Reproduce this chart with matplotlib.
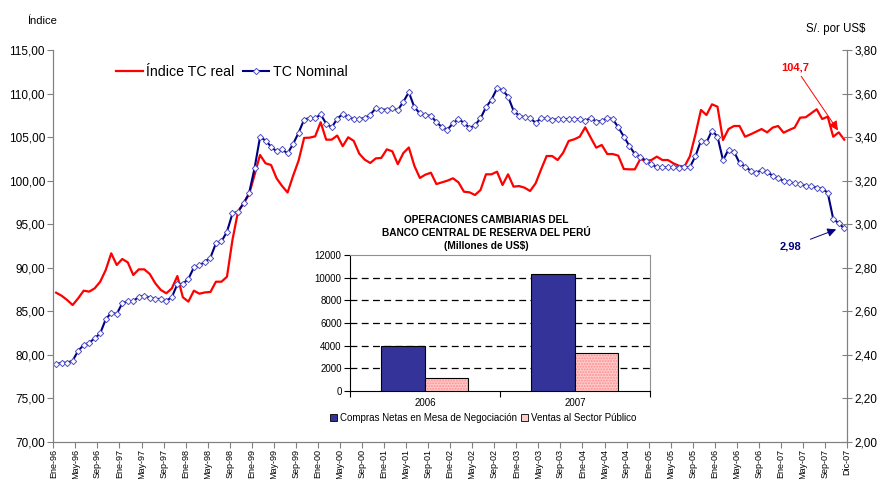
import matplotlib
matplotlib.use('Agg')
import matplotlib.pyplot as plt
import numpy as np
from matplotlib.ticker import FuncFormatter, MultipleLocator
from matplotlib.patches import Patch

plt.rcParams['font.family'] = ['Liberation Sans', 'DejaVu Sans']

##### data (monthly, Ene-96 .. Dic-07)
tc_real = [
    87.12, 86.77, 86.28, 85.70, 86.47, 87.35, 87.24, 87.62, 88.38, 89.72, 91.64, 90.30,   # 1996
    90.99, 90.60, 89.15, 89.80, 89.80, 89.26, 88.19, 87.43, 87.05, 87.62, 89.03, 86.59,   # 1997
    86.09, 87.35, 87.00, 87.15, 87.20, 88.38, 88.38, 88.95, 93.20, 96.42, 97.38, 98.40,   # 1998
    100.64, 102.94, 101.98, 101.79, 100.26, 99.37, 98.63, 100.55, 102.30, 104.90, 104.93, 105.08,  # 1999
    106.70, 104.70, 104.70, 105.17, 103.95, 104.97, 104.56, 103.09, 102.40, 102.02, 102.55, 102.60,  # 2000
    103.59, 103.36, 101.88, 103.16, 103.80, 101.70, 100.30, 100.68, 100.90, 99.60, 99.80, 99.99,  # 2001
    100.26, 99.80, 98.72, 98.65, 98.34, 98.91, 100.72, 100.72, 101.02, 99.49, 100.72, 99.30,  # 2002
    99.37, 99.18, 98.80, 99.68, 101.29, 102.82, 102.82, 102.36, 103.20, 104.55, 104.74, 105.04,  # 2003
    106.12, 104.93, 103.78, 104.09, 103.05, 103.05, 102.86, 101.33, 101.29, 101.29, 102.48, 102.25,  # 2004
    102.36, 102.75, 102.36, 102.36, 101.98, 101.70, 101.60, 102.80, 105.30, 108.11, 107.53, 108.76,  # 2005
    108.49, 104.66, 105.92, 106.27, 106.27, 105.04, 105.31, 105.62, 105.92, 105.54, 106.08, 106.27,  # 2006
    105.50, 105.81, 106.08, 107.23, 107.27, 107.73, 108.19, 107.07, 107.34, 105.04, 105.54, 104.70,  # 2007
]

tc_nominal = [
    2.356, 2.363, 2.363, 2.372, 2.418, 2.444, 2.455, 2.475, 2.498, 2.562, 2.593, 2.587,
    2.636, 2.646, 2.646, 2.666, 2.671, 2.662, 2.656, 2.656, 2.648, 2.664, 2.724, 2.726,
    2.748, 2.801, 2.810, 2.827, 2.846, 2.912, 2.920, 2.965, 3.049, 3.057, 3.095, 3.141,
    3.256, 3.400, 3.384, 3.356, 3.334, 3.343, 3.325, 3.368, 3.420, 3.480, 3.488, 3.486,
    3.504, 3.462, 3.444, 3.484, 3.506, 3.492, 3.483, 3.483, 3.488, 3.503, 3.532, 3.526,
    3.526, 3.532, 3.524, 3.562, 3.606, 3.537, 3.509, 3.500, 3.498, 3.468, 3.446, 3.434,
    3.463, 3.483, 3.465, 3.442, 3.454, 3.486, 3.537, 3.572, 3.624, 3.616, 3.586, 3.521,
    3.498, 3.491, 3.486, 3.466, 3.486, 3.486, 3.478, 3.483, 3.483, 3.483, 3.483, 3.482,
    3.474, 3.489, 3.471, 3.474, 3.489, 3.482, 3.445, 3.402, 3.360, 3.322, 3.310, 3.291,
    3.276, 3.261, 3.261, 3.261, 3.261, 3.259, 3.261, 3.262, 3.312, 3.383, 3.375, 3.430,
    3.402, 3.294, 3.342, 3.333, 3.281, 3.264, 3.246, 3.236, 3.248, 3.238, 3.223, 3.210,
    3.199, 3.193, 3.187, 3.184, 3.176, 3.174, 3.168, 3.163, 3.144, 3.024, 3.004, 2.980,
]

years_short = ['96', '97', '98', '99', '00', '01', '02', '03', '04', '05', '06', '07']
month_tick_labels = [m + '-' + y for y in years_short for m in ['Ene', 'May', 'Sep']] + ['Dic-07']

##### inset data
inset_years = ['2006', '2007']
compras_netas = [4000, 10360]
ventas_sector_publico = [1120, 3320]


def coma(fmt):
    return FuncFormatter(lambda v, p: (fmt % v).replace('.', ','))


fig = plt.figure(figsize=(8.79, 4.79), dpi=100)
fig.patch.set_facecolor('white')

ax = fig.add_axes([0.0607, 0.0779, 0.9029, 0.8177])
ax2 = ax.twinx()

n = len(tc_real)
x = np.arange(n) + 0.5

l1, = ax.plot(x, tc_real, color='#FF0000', lw=1.6, label='Índice TC real')
l2, = ax2.plot(x, tc_nominal, color='#000080', lw=1.5, marker='D', markersize=3.2,
               markerfacecolor='white', markeredgecolor='#5050C4', markeredgewidth=0.7,
               label='TC Nominal')

ax.set_xlim(0, n)
ax.set_ylim(70, 115)
ax2.set_ylim(2.0, 3.8)
ax.yaxis.set_major_locator(MultipleLocator(5))
ax2.yaxis.set_major_locator(MultipleLocator(0.2))
ax.yaxis.set_major_formatter(coma('%.2f'))
ax2.yaxis.set_major_formatter(coma('%.2f'))

xt = list(np.arange(0, n - 3, 4)) + [n]
ax.set_xticks(xt)
ax.set_xticklabels(month_tick_labels, rotation=90, fontsize=6.5)

for a in (ax, ax2):
    a.spines['top'].set_visible(False)
    for s in ['left', 'right', 'bottom']:
        a.spines[s].set_color('#808080')
ax.tick_params(axis='y', labelsize=8.5, length=4, color='#808080', pad=2)
ax.tick_params(axis='x', length=4, color='#808080', pad=1)
ax2.tick_params(axis='y', labelsize=8.5, direction='inout', length=7, color='#808080', pad=2)

fig.text(42 / 879, 1 - 21 / 479, 'Índice', fontsize=8, ha='center', va='center')
fig.text(836 / 879, 1 - 29 / 479, 'S/. por US$', fontsize=8.3, ha='center', va='center')

ax2.legend([l1, l2], ['Índice TC real', 'TC Nominal'], loc='center left',
           bbox_to_anchor=(0.132, 0.849), bbox_transform=fig.transFigure,
           ncol=2, frameon=False, fontsize=10.2, handlelength=1.9,
           handletextpad=0.25, columnspacing=0.55, borderpad=0, borderaxespad=0)

# end annotations
ax.annotate(('%.1f' % tc_real[-1]).replace('.', ','), xy=(x[-1], tc_real[-1]),
            xytext=(134.6, 113.0), textcoords='data', color='#FF0000', fontsize=8,
            fontweight='bold', ha='center', va='center',
            arrowprops=dict(arrowstyle='-|>', color='#FF0000', lw=0.7,
                            mutation_scale=14, shrinkA=1, shrinkB=8))
ax2.annotate(('%.2f' % tc_nominal[-1]).replace('.', ','), xy=(x[-1] - 1.0, tc_nominal[-1]),
             xytext=(133.7, 2.895), textcoords='data', color='#000080', fontsize=8,
             fontweight='bold', ha='center', va='center',
             arrowprops=dict(arrowstyle='-|>', color='#000080', lw=0.7,
                             mutation_scale=13, shrinkA=5, shrinkB=2))

##### inset bar chart
axi = fig.add_axes([350 / 879, 1 - 391 / 479, 300 / 879, 136 / 479])
xi = np.arange(len(inset_years))
w = 0.29
axi.bar(xi - w / 2, compras_netas, w, color='#333399', edgecolor='black', lw=0.8, zorder=3)
axi.bar(xi + w / 2, ventas_sector_publico, w, color='#FFCCCC', edgecolor='#FF8C8C', hatch='......',
        lw=0, zorder=3)
axi.bar(xi + w / 2, ventas_sector_publico, w, fill=False, edgecolor='black', lw=0.8, zorder=4)
axi.set_xlim(-0.5, 1.5)
axi.set_ylim(0, 12000)
axi.set_yticks(np.arange(0, 12001, 2000))
axi.set_xticks(xi)
axi.set_xticklabels(inset_years)
axi.set_xticks([-0.5, 0.5, 1.5], minor=True)
axi.tick_params(axis='x', which='major', length=0, labelsize=7, pad=5)
axi.tick_params(axis='x', which='minor', length=4, width=0.8)
axi.tick_params(axis='y', labelsize=7, length=4, width=0.8, pad=2)
for yv in np.arange(2000, 12000, 2000):
    axi.axhline(yv, color='black', lw=0.9, ls=(0, (5.5, 3.5)), zorder=1)
axi.spines['top'].set_color('#909090')
axi.spines['right'].set_color('#909090')
axi.spines['left'].set_linewidth(0.8)
axi.spines['bottom'].set_linewidth(0.8)

hs = [Patch(facecolor='#333399', edgecolor='black', lw=0.6),
      Patch(facecolor='#FFCCCC', edgecolor='black', lw=0.6)]
axi.legend(hs, ['Compras Netas en Mesa de Negociación', 'Ventas al Sector Público'],
           loc='center', bbox_to_anchor=(483 / 879, 1 - 418 / 479), bbox_transform=fig.transFigure,
           ncol=2, frameon=False, fontsize=7, handlelength=0.75, handleheight=0.75,
           handletextpad=0.3, columnspacing=0.35, borderpad=0)

fig.text(486 / 879, 1 - 233 / 479,
         'OPERACIONES CAMBIARIAS DEL\nBANCO CENTRAL DE RESERVA DEL PERÚ\n(Millones de US$)',
         fontsize=7.3, fontweight='bold', ha='center', va='center', linespacing=1.35)

fig.savefig('out.png', dpi=100, facecolor='white')
